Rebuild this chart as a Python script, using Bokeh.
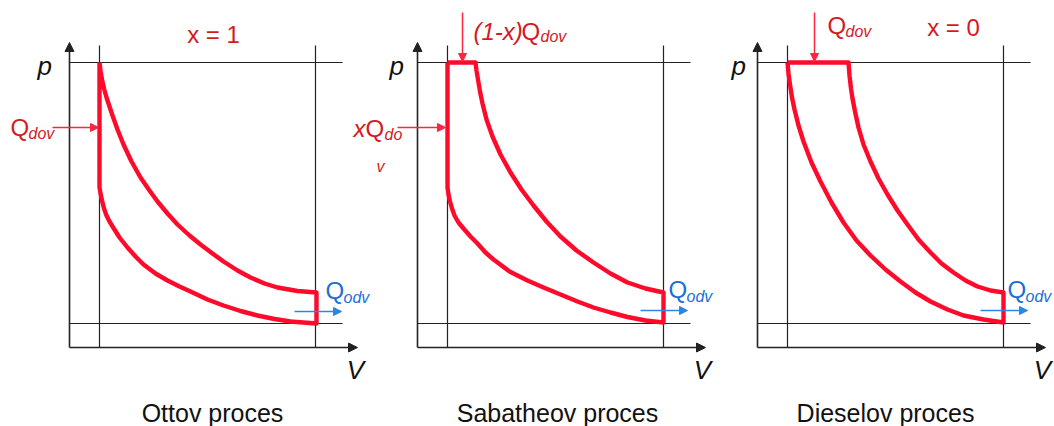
from bokeh.plotting import figure
from bokeh.models import Range1d, Arrow, NormalHead
from bokeh.core.properties import value
from bokeh.embed import file_html
from bokeh.resources import INLINE

# ---------------- data (local V-p units of each diagram) ----------------
panel_titles = ["Ottov proces", "Sabatheov proces", "Dieselov proces"]
panel_ox = [69, 417, 757]          # page x of each p axis
panel_oy = 347                     # page y of the V axis

V_small = 30                       # compressed volume line
V_large = 246                      # expanded volume line
p_high = 285                       # max pressure line
p_low = 24                         # min pressure line

otto_upper_V = [30, 31, 32.5, 34.5, 37, 40, 43, 48, 54, 62, 71, 80, 88, 98, 108, 120, 131, 143, 154, 168, 181, 195, 208, 228, 247]
otto_upper_p = [285, 277, 268, 259, 250, 241, 232, 218, 203, 186, 170, 157, 146, 134, 123, 112, 103, 94, 86, 77, 70, 64, 60, 56.5, 55]
otto_lower_V = [30, 31, 32.5, 34.5, 37, 40, 44, 50, 58, 66, 74, 86, 98, 110, 121, 138, 154, 171, 188, 205, 221, 234, 247]
otto_lower_p = [160, 154, 147, 139, 132, 126, 119.5, 110, 100, 91, 83, 74, 67, 61, 56, 48, 42, 36.5, 32, 28.5, 26, 25, 24]

sab_upper_V = [58, 59, 60.5, 62.5, 65, 69, 75, 83, 93, 104, 116, 129, 143, 159, 176, 193, 210, 228, 246]
sab_upper_p = [285, 277, 268, 256, 244, 228, 211, 193, 175, 158, 142, 126, 111, 97, 85, 74, 65, 59, 55]
sab_lower_V = [30, 31, 32.5, 34.5, 37, 41, 46, 53, 60, 68, 76, 92, 110, 126, 143, 160, 176, 193, 210, 228, 246]
sab_lower_p = [160, 153, 146, 139, 132, 125, 119, 111, 104, 95, 88, 76, 67, 60, 53, 46, 40, 35, 30.5, 27, 25]

die_upper_V = [91, 92, 93.5, 95, 97.5, 101, 106, 113, 121, 130, 140, 150, 161, 173, 184, 196, 208, 220, 233, 246]
die_upper_p = [285, 272, 259, 249, 236, 220, 203, 186, 169, 153, 137, 123, 108, 95, 84, 75, 67, 61, 57, 55]
die_lower_V = [30, 31, 32.5, 34.5, 37, 41, 46, 54, 63, 74, 86, 99, 113, 128, 143, 158, 173, 190, 206, 226, 246]
die_lower_p = [285, 274, 263, 250, 238, 222, 206, 185, 166, 145, 125, 107, 92, 78, 66, 55, 46, 38, 32, 28, 25]

uppers = [(otto_upper_V, otto_upper_p), (sab_upper_V, sab_upper_p), (die_upper_V, die_upper_p)]
lowers = [(otto_lower_V, otto_lower_p), (sab_lower_V, sab_lower_p), (die_lower_V, die_lower_p)]

FONT = value("Liberation Sans")
RED_TXT = "#d41a1f"
RED_LN = "#ff0a2b"
RED_AR = "#ff2442"
BLUE_TXT = "#1a6fd6"
BLUE_AR = "#2a86e8"
BLACK = "#222222"
TXT_SHIFT = -9   # renderer places the alphabetic baseline a little low

fig = figure(width=1054, height=426, x_range=Range1d(0, 1054), y_range=Range1d(426, 0),
             output_backend="svg", toolbar_location=None, min_border=0,
             x_axis_type=None, y_axis_type=None)
fig.grid.visible = False
fig.outline_line_color = None
fig.background_fill_color = "white"
fig.border_fill_color = "white"


def arrow(x0, y0, x1, y1, color, width, size):
    fig.add_layout(Arrow(x_start=x0, y_start=y0, x_end=x1, y_end=y1,
                         line_color=color, line_width=width,
                         end=NormalHead(size=size, fill_color=color, line_color=color, line_width=1)))


for i, ox in enumerate(panel_ox):
    oy = panel_oy
    X = lambda v: ox + v
    Y = lambda pp: oy - pp
    # guide lines
    fig.multi_line(xs=[[X(V_small), X(V_small)], [X(V_large), X(V_large)],
                       [X(0), X(273)], [X(0), X(273)]],
                   ys=[[Y(0), Y(302)], [Y(0), Y(302)], [Y(p_high), Y(p_high)], [Y(p_low), Y(p_low)]],
                   line_color=BLACK, line_width=1.2)
    # axes with arrows
    arrow(X(0), Y(0), X(0), Y(305), BLACK, 1.6, 9)
    arrow(X(0), Y(0), X(288), Y(0), BLACK, 1.6, 9)
    # cycle
    uV, up = uppers[i]
    lV, lp = lowers[i]
    cv = [V_small] + list(uV) + list(lV)[::-1] + [V_small]
    cp = [p_high] + list(up) + list(lp)[::-1] + [p_high]
    fig.line([X(v) for v in cv], [Y(q) for q in cp], line_color=RED_LN, line_width=4.4,
             line_join="round")

# heat in / heat out arrows
arrow(52, 127, 98, 127, RED_AR, 1.5, 8)
arrow(397, 127, 445, 127, RED_AR, 1.5, 8)
arrow(462, 12, 462, 61, RED_AR, 1.5, 8)
arrow(814, 12, 814, 61, RED_AR, 1.5, 8)
arrow(294, 311, 341, 311, BLUE_AR, 1.6, 8)
arrow(640, 310, 687, 310, BLUE_AR, 1.6, 8)
arrow(980, 310, 1027, 310, BLUE_AR, 1.6, 8)


def txt(xs, ys, texts, size, color, style="normal", align="left"):
    fig.text(x=xs, y=[y + TXT_SHIFT for y in ys], text=texts, text_font=FONT, text_font_size=size,
             text_color=color, text_font_style=style, text_align=align,
             text_baseline="alphabetic")


# titles under the diagrams
txt([212, 557, 885], [421, 421, 421], panel_titles, "25px", "#111111", align="center")
# axis labels
txt([37, 389, 731], [74, 74, 74], ["p", "p", "p"], "26px", "#111111", style="italic")
txt([355, 702, 1042], [378, 378, 378], ["V", "V", "V"], "26px", "#111111", style="italic", align="center")
# x values
txt([213, 953], [43, 36], ["x = 1", "x = 0"], "24px", RED_TXT, align="center")
# Q dov
txt([10, 365, 521, 827], [136, 137, 40, 34], ["Q", "Q", "Q", "Q"], "24px", RED_TXT)
txt([28, 384, 540, 845], [142, 143, 45, 40], ["dov", "do", "dov", "dov"], "16px", RED_TXT, style="italic")
txt([376], [175], ["v"], "16px", RED_TXT, style="italic")
txt([353, 473], [137, 40], ["x", "(1-x)"], "24px", RED_TXT, style="italic")
# Q odv
txt([325, 668, 1007], [299, 298, 298], ["Q", "Q", "Q"], "24px", BLUE_TXT)
txt([343, 686, 1025], [306, 305, 305], ["odv", "odv", "odv"], "16px", BLUE_TXT, style="italic")

open("out.html", "w").write(file_html(fig, INLINE))
